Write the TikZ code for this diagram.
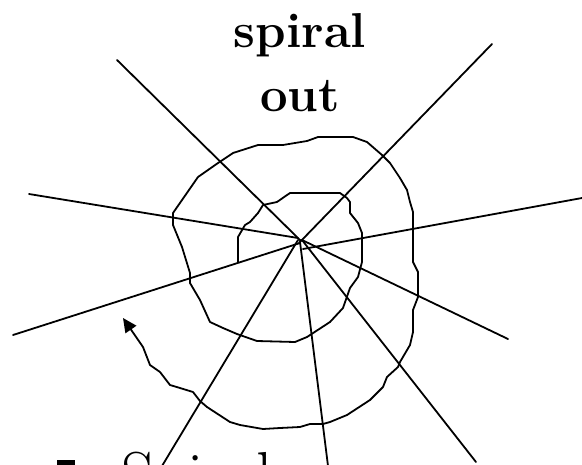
\documentclass[tikz,border=0pt]{standalone}
\usetikzlibrary{arrows.meta}
\tikzset{
  ray/.style={draw=black, line width=1.8pt, line cap=round},
  spiralline/.style={draw=black, line width=1.8pt, line join=round, line cap=round},
  titletext/.style={inner sep=0pt, font=\fontsize{49}{60}\selectfont\bfseries},
  bodytext/.style={inner sep=0pt, font=\fontsize{65}{72}\selectfont},
}
\begin{document}
\begin{tikzpicture}[x=1pt, y=-1pt]
\useasboundingbox (0,0) rectangle (582,464);
\fill[white] (0,0) rectangle (582,464);

% rays
\coordinate (r1a) at (117,60);  \coordinate (r1b) at (301,241);
\coordinate (r2a) at (492,44);  \coordinate (r2b) at (299,243);
\coordinate (r3a) at (29,194);  \coordinate (r3b) at (298,238);
\coordinate (r4a) at (13,335);  \coordinate (r4b) at (300,243);
\coordinate (r5a) at (582,198); \coordinate (r5b) at (303,249);
\coordinate (r6a) at (508,339); \coordinate (r6b) at (302,240);
\coordinate (r7a) at (476,462); \coordinate (r7b) at (302,240);
\coordinate (r8a) at (328,466); \coordinate (r8b) at (300,242);
\coordinate (r9a) at (162,466); \coordinate (r9b) at (298,240);
\foreach \i in {1,...,9} { \draw[ray] (r\i a) -- (r\i b); }

% spiral
\draw[spiralline, -{Triangle[length=14pt,width=13pt]}]
  (238,262) -- (238,237) -- (245,225) -- (250,222) -- (258,213) -- (263,205)
  -- (277,202) -- (287,195) -- (290,193) -- (340,193) -- (347,198) -- (350,202)
  -- (350,213) -- (358,223) -- (362,233) -- (362,262) -- (358,277) -- (350,288)
  -- (343,308) -- (330,322) -- (307,337) -- (295,342) -- (257,341) -- (237,334)
  -- (223,328) -- (210,322) -- (200,300) -- (190,283) -- (190,273) -- (182,247)
  -- (173,225) -- (173,213) -- (198,177) -- (218,163) -- (233,153) -- (258,145)
  -- (283,145) -- (307,141) -- (318,137) -- (353,137) -- (367,142) -- (382,155)
  -- (390,163) -- (400,178) -- (407,190) -- (410,202) -- (413,212) -- (413,262)
  -- (418,272) -- (418,297) -- (413,310) -- (413,332) -- (410,345) -- (400,362)
  -- (398,367) -- (387,377) -- (383,387) -- (370,400) -- (347,415) -- (330,422)
  -- (323,424) -- (310,424) -- (300,427) -- (280,428) -- (263,429) -- (240,425)
  -- (230,422) -- (207,407) -- (200,401) -- (193,392) -- (180,388) -- (170,385)
  -- (160,372) -- (150,365) -- (143,347) -- (123,318);

% title
\node[titletext, anchor=base] (t1) at (300,47) {spiral};
\node[titletext, anchor=base] (t2) at (300,111) {out};

% bottom bullet text
\fill[black] (57,460) rectangle (75,478);
\node[bodytext, anchor=base west] (b1) at (121,497) {Spiral};
\end{tikzpicture}
\end{document}
